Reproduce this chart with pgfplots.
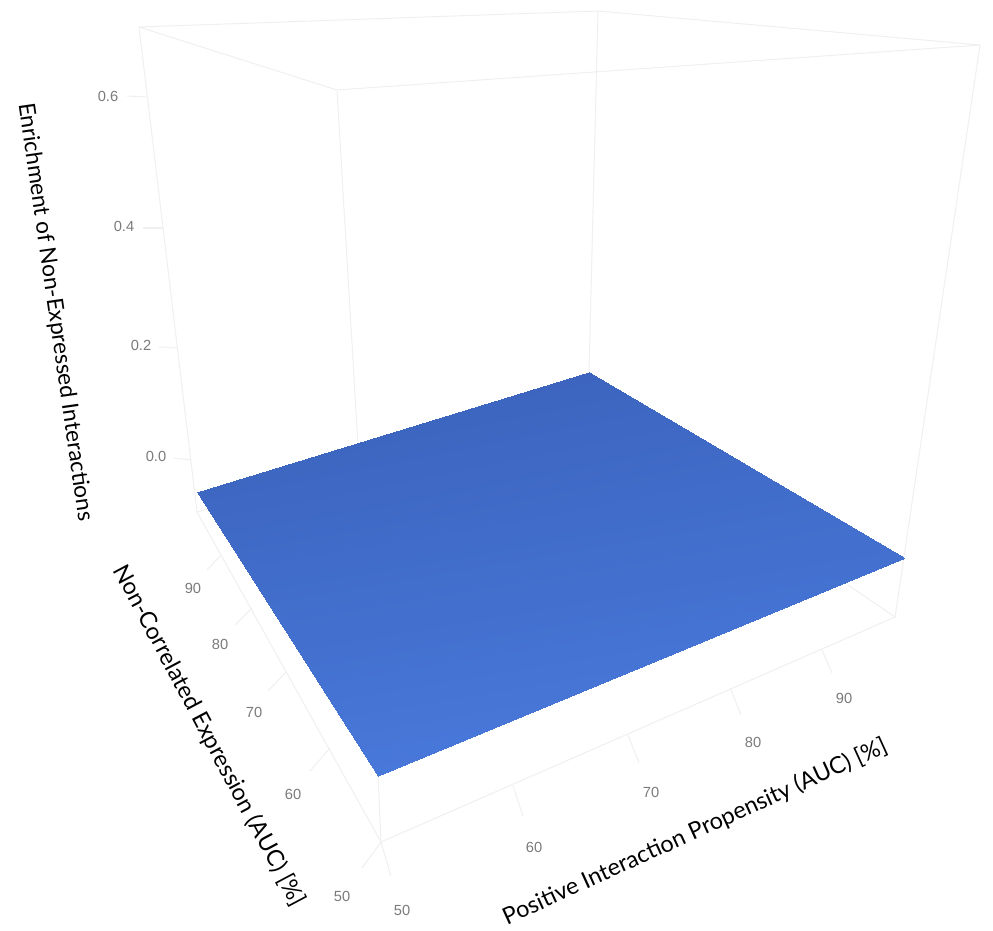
\documentclass[border=0pt]{standalone}
\usepackage{fontspec}
\setmainfont{Lato}
\newfontfamily\tickfont{Liberation Sans}
\usepackage{pgfplots}
\pgfplotsset{compat=1.18}
\definecolor{edge}{HTML}{F0F0F0}
\definecolor{ticktext}{HTML}{7A7A7A}
\tikzset{tl/.style={font=\tickfont\fontsize{11pt}{12pt}\selectfont,text=ticktext,inner sep=0pt,anchor=center}}
\tikzset{axt/.style={font=\fontsize{17.5pt}{20pt}\selectfont,text=black,inner sep=0pt,anchor=center}}
\begin{document}
\begin{tikzpicture}
\begin{axis}[
  width=744.75pt,height=698.25pt,scale only axis,hide axis,clip=false,
  xmin=0,xmax=993,ymin=0,ymax=931,y dir=reverse,
  colormap={surf}{rgb255=(60,100,190) rgb255=(72,120,218)},
  point meta min=0,point meta max=1,
]
\path (axis cs:0,0) rectangle (axis cs:993,931);
% frame of the box
\addplot[edge,line width=0.8pt] coordinates {(139,27) (598,11) (980,45) (337,90) (139,27)};
\addplot[edge,line width=0.8pt] coordinates {(139,27) (197,512)};
\addplot[edge,line width=0.8pt] coordinates {(598,11) (589,372)};
\addplot[edge,line width=0.8pt] coordinates {(980,45) (895,617)};
\addplot[edge,line width=0.8pt] coordinates {(337,90) (358,445)};
\addplot[edge,line width=0.8pt] coordinates {(378,776) (381,842)};
\addplot[edge,line width=0.8pt] coordinates {(197,512) (381,842) (895,617) (848,585)};
\addplot[edge,line width=0.8pt] coordinates {(197,512) (213,508)};
% ticks
\addplot[edge,line width=0.8pt] coordinates {(127,96) (146,97)};
\addplot[edge,line width=0.8pt] coordinates {(143,228) (163,228)};
\addplot[edge,line width=0.8pt] coordinates {(159,347) (177,348)};
\addplot[edge,line width=0.8pt] coordinates {(174,458) (191,460)};
\addplot[edge,line width=0.8pt] coordinates {(207,570) (221,555)};
\addplot[edge,line width=0.8pt] coordinates {(235,625) (252,608)};
\addplot[edge,line width=0.8pt] coordinates {(268,691) (286,672)};
\addplot[edge,line width=0.8pt] coordinates {(310,771) (330,748)};
\addplot[edge,line width=0.8pt] coordinates {(362,868) (381,842)};
\addplot[edge,line width=0.8pt] coordinates {(381,842) (391,876)};
\addplot[edge,line width=0.8pt] coordinates {(513,786) (523,816)};
\addplot[edge,line width=0.8pt] coordinates {(628,735) (639,763)};
\addplot[edge,line width=0.8pt] coordinates {(731,690) (741,715)};
\addplot[edge,line width=0.8pt] coordinates {(822,650) (832,673)};
% surface
\addplot[patch,shader=interp,patch type=triangle,point meta=explicit] coordinates {
  (197,492) [0.15] (589,372) [0.05] (905,558) [0.65]
  (197,492) [0.15] (905,558) [0.65] (378,776) [1]
};
% tick labels
\node[tl] at (axis cs:108,96) {0.6};
\node[tl] at (axis cs:124,226) {0.4};
\node[tl] at (axis cs:141,345) {0.2};
\node[tl] at (axis cs:156,456) {0.0};
\node[tl] at (axis cs:193,588) {90};
\node[tl] at (axis cs:220,644) {80};
\node[tl] at (axis cs:254,712) {70};
\node[tl] at (axis cs:293,794) {60};
\node[tl] at (axis cs:342,896) {50};
\node[tl] at (axis cs:402,910) {50};
\node[tl] at (axis cs:534,847) {60};
\node[tl] at (axis cs:651,792) {70};
\node[tl] at (axis cs:753,742) {80};
\node[tl] at (axis cs:844,698) {90};
% axis titles
\node[axt,font=\fontsize{17pt}{20pt}\selectfont,rotate=-81.8] at (axis cs:55,312) {Enrichment of Non-Expressed Interactions};
\node[axt,rotate=-62] at (axis cs:209,736) {Non-Correlated Expression (AUC) [\%]};
\node[axt,rotate=24.5] at (axis cs:695,832) {Positive Interaction Propensity (AUC) [\%]};
\end{axis}
\end{tikzpicture}
\end{document}
